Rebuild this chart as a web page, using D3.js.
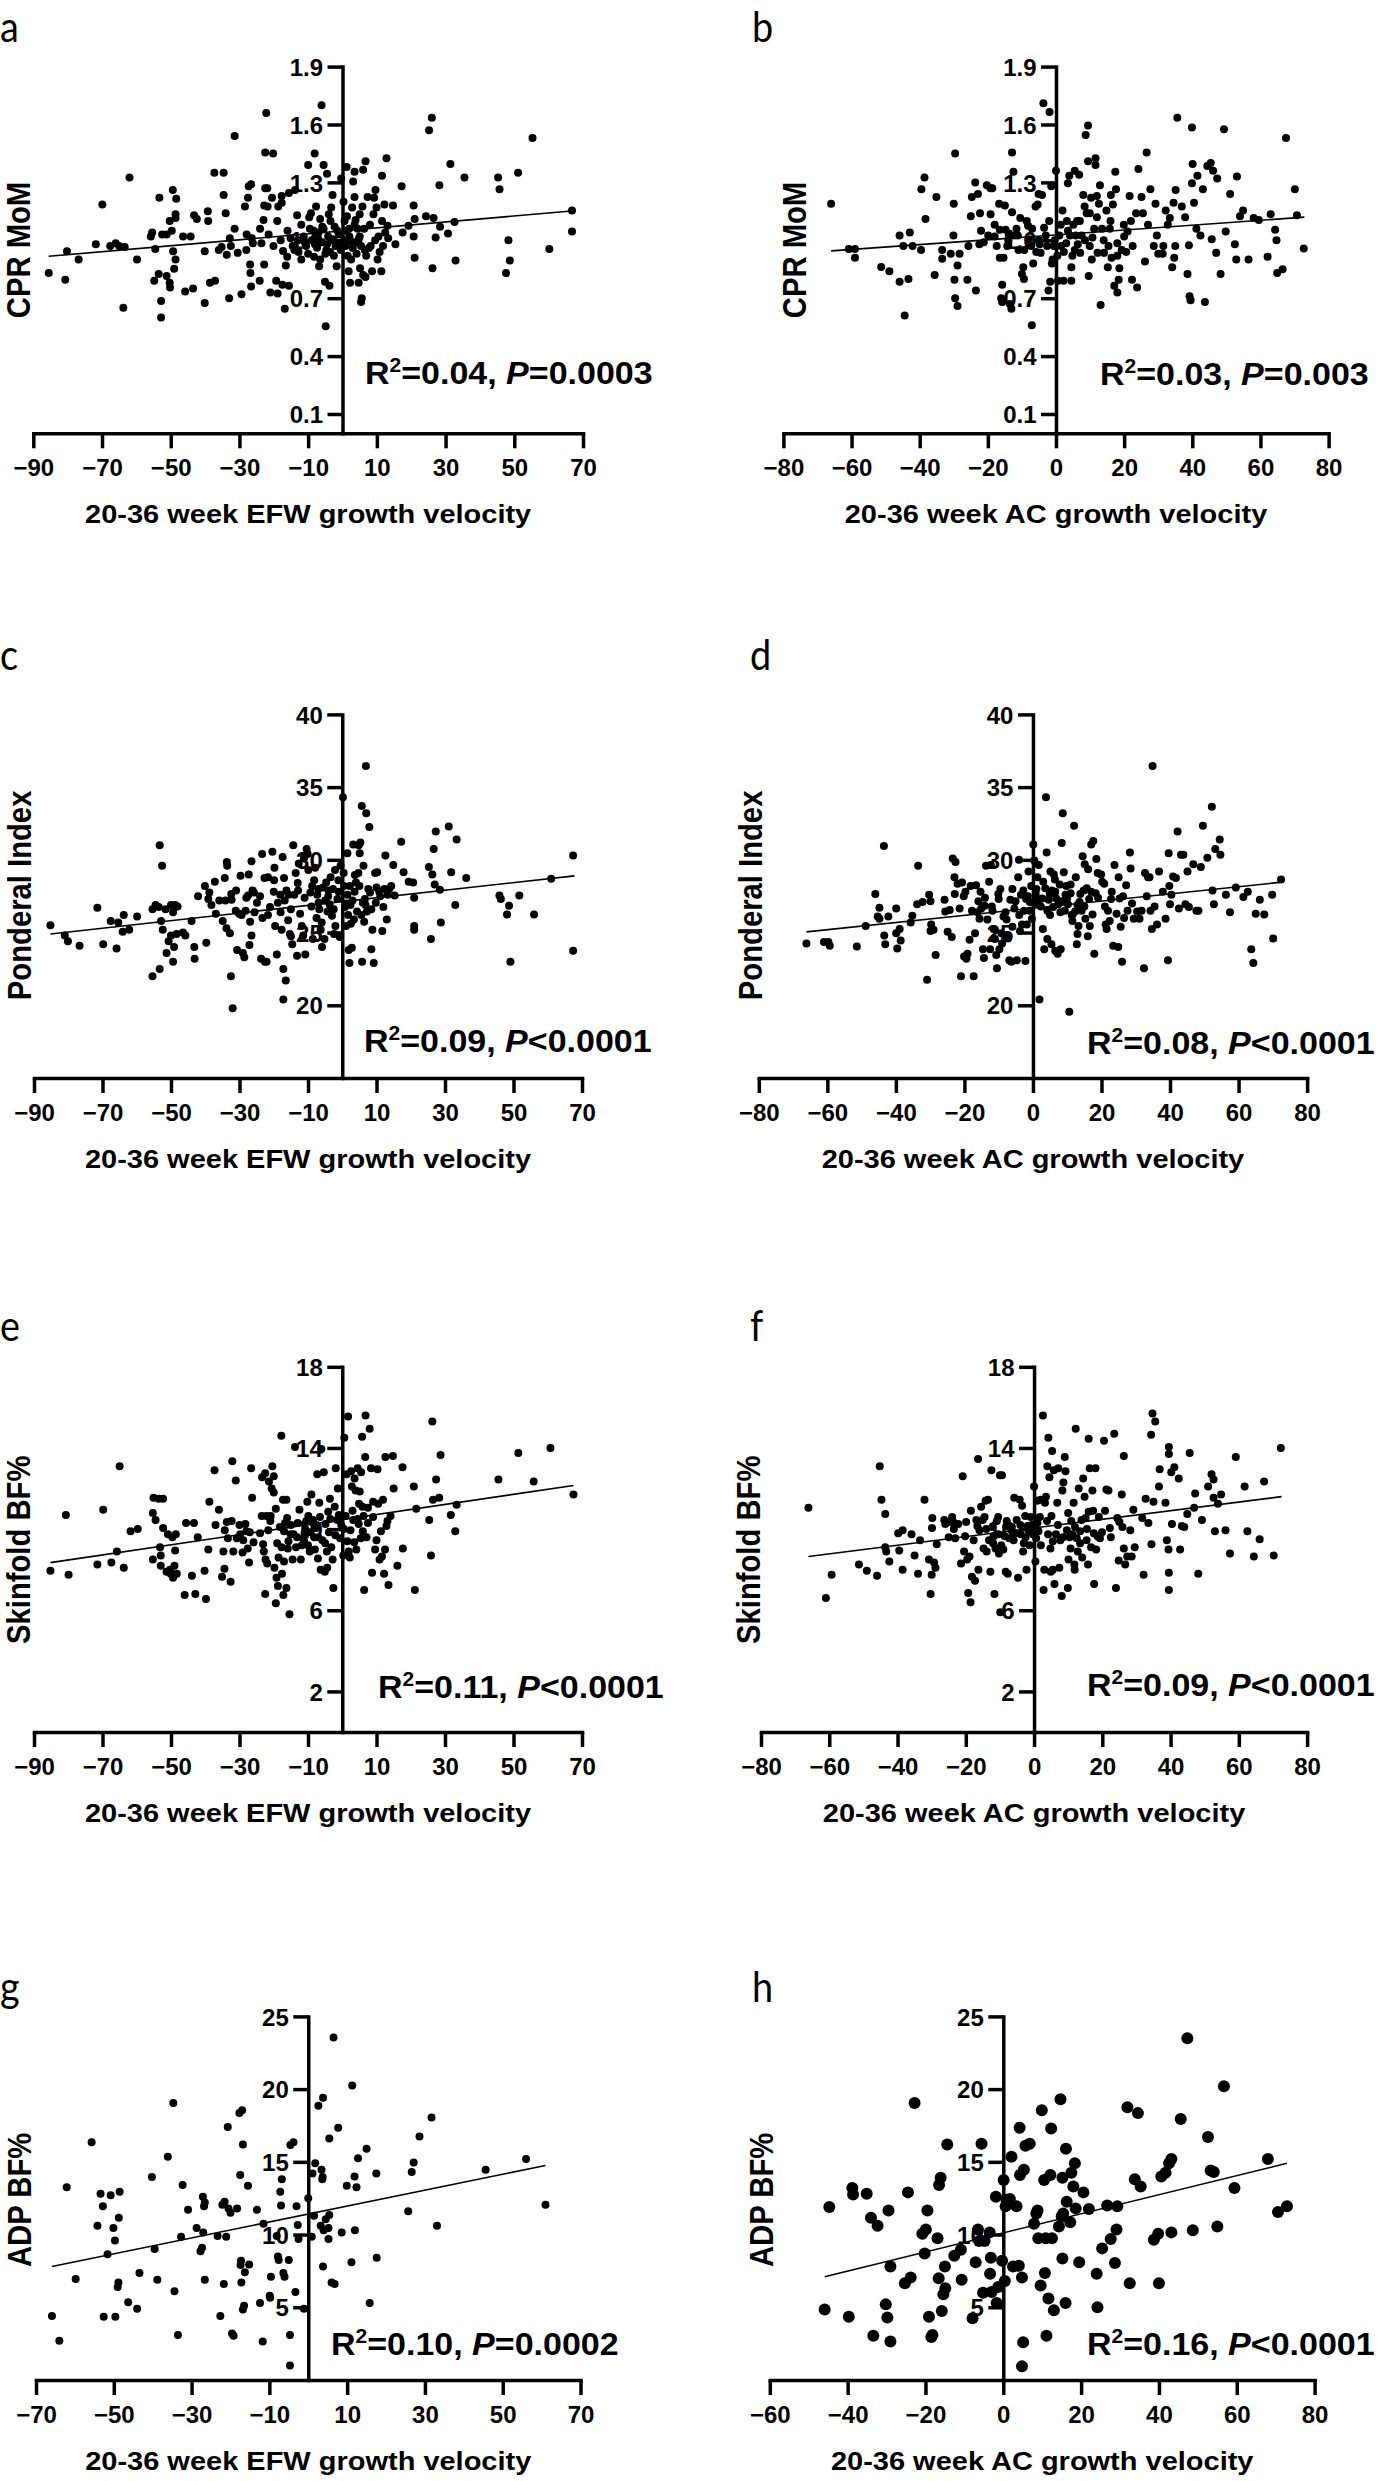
<!DOCTYPE html>
<html>
<head>
<meta charset="utf-8">
<script src="https://cdn.jsdelivr.net/npm/d3@7/dist/d3.min.js"></script>
<style>
  html, body { margin: 0; padding: 0; background: #fff; }
  svg { display: block; }
  .bold { font-family: "Liberation Sans", Arial, Helvetica, sans-serif; font-weight: bold; fill: #000; }
  .plab { font-family: Lato, "Open Sans", sans-serif; font-weight: normal; fill: #000; }
</style>
</head>
<body>
<svg id="chart" width="1379" height="2481"></svg>
<script>
// ---------------- DATA ----------------
const xTitleEFW = "20-36 week EFW growth velocity";
const xTitleAC = "20-36 week AC growth velocity";
const yTitles = ["CPR MoM", "Ponderal Index", "Skinfold BF%", "ADP BF%"];
const panelLetters = ["a", "b", "c", "d", "e", "f", "g", "h"];

const xTicksEFW = [-90, -70, -50, -30, -10, 10, 30, 50, 70];
const xTicksAC = [-80, -60, -40, -20, 0, 20, 40, 60, 80];
const xTicksEFWg = [-70, -50, -30, -10, 10, 30, 50, 70];
const xTicksACh = [-60, -40, -20, 0, 20, 40, 60, 80];
const yTicksCPR = [0.1, 0.4, 0.7, 1.0, 1.3, 1.6, 1.9];
const yTicksPI = [20, 25, 30, 35, 40];
const yTicksSkin = [2, 6, 10, 14, 18];
const yTicksADP = [5, 10, 15, 20, 25];

const statsA = ["0.04", "=", "0.0003"];
const statsB = ["0.03", "=", "0.003"];
const statsC = ["0.09", "<", "0.0001"];
const statsD = ["0.08", "<", "0.0001"];
const statsE = ["0.11", "<", "0.0001"];
const statsF = ["0.09", "<", "0.0001"];
const statsG = ["0.10", "=", "0.0002"];
const statsH = ["0.16", "<", "0.0001"];

const fitA = [[-85.5, 0.917], [67.5, 1.153]];
const fitB = [[-66, 0.945], [72.9, 1.12]];
const fitC = [[-85.2, 24.9], [67.8, 28.9]];
const fitD = [[-66.1, 25.05], [72, 28.45]];
const fitE = [[-85.2, 8.35], [67.5, 12.15]];
const fitF = [[-66.1, 8.65], [72.5, 11.6]];
const fitG = [[-65.9, 7.8], [61, 14.75]];
const fitH = [[-45.9, 7.1], [72.9, 14.9]];

const pointsA = [[-85.5,0.83],[-80.7,0.795],[-80.2,0.943],[-76.8,0.90],[-71.8,0.98],[-69.9,1.185],[-67.6,0.97],[-66,0.985],[-65,0.97],[-63.8,0.65],[-63.4,0.965],[-62,1.325],[-59.8,0.90],[-55.8,1.02],[-55.4,1.04],[-54.5,0.955],[-54.8,0.79],[-53.3,1.22],[-53.5,0.825],[-52.8,0.685],[-52.8,0.60],[-52.5,1.03],[-51.2,1.03],[-51.2,0.815],[-50.3,0.78],[-50.2,0.755],[-50.3,1.10],[-49.7,1.05],[-49.4,1.26],[-49.3,0.943],[-48.6,0.90],[-49.0,0.853],[-48.6,1.135],[-48.6,1.115],[-48.4,1.215],[-46.4,1.02],[-45.8,0.735],[-44.2,1.02],[-43.5,0.75],[-43.2,1.13],[-42.4,1.11],[-40.1,0.943],[-40.1,0.675],[-39.2,1.15],[-39.1,1.1],[-38.6,0.78],[-37.1,0.79],[-37.3,1.35],[-36,0.95],[-35.2,0.965],[-34.6,1.35],[-34.6,1.235],[-34,1.14],[-33.7,0.925],[-33,0.70],[-32.8,1.01],[-32.5,0.97],[-31.4,1.54],[-31.4,1.06],[-30.5,0.935],[-29.4,0.72],[-28.4,1.175],[-27.9,1.03],[-27.5,1.22],[-27.3,1.28],[-26.9,0.875],[-26.8,0.83],[-26.6,0.76],[-26.4,1.01],[-26.6,1.29],[-26.1,0.985],[-24.1,0.79],[-23.6,0.985],[-23,1.105],[-22.8,0.875],[-22.8,1.18],[-22.5,1.27],[-21.9,1.27],[-22.2,1.66],[-22.5,1.455],[-21.8,1.175],[-21.5,1.03],[-21,0.73],[-20.5,1.22],[-20.2,1.45],[-20.1,0.97],[-19.3,0.79],[-18.9,0.725],[-18.7,1.175],[-17.7,1.23],[-17.7,1.195],[-17.5,0.77],[-17.3,0.945],[-16.8,0.645],[-16.5,0.87],[-16.1,0.915],[-15.6,1.245],[-15.6,0.765],[-15.1,1.01],[-14.5,0.97],[-13.8,1.26],[-13.2,1.13],[-12.8,0.94],[-12,0.90],[-11.3,1.02],[-10.6,0.97],[-10,1.39],[-9.7,1.12],[-9.2,1.14],[-8.4,1.05],[-8.3,0.915],[-8.1,1.45],[-7.7,1.175],[-7.4,0.962],[-7.2,1.01],[-6.8,0.865],[-6.5,1.11],[-6.1,1.70],[-5.9,1.07],[-5.5,1.39],[-5.1,0.785],[-4.9,0.555],[-4.7,0.95],[-4.5,1.345],[-4.2,1.02],[-4,1.135],[-3.8,0.765],[-3.6,0.94],[-3.3,1.17],[-2.9,1.235],[-2.7,1.005],[-2.3,1.07],[-2,0.97],[-1.7,0.865],[-1.3,0.975],[-0.4,1.32],[0.3,1.2],[0.6,1.1],[0.9,0.97],[1.2,1.38],[1.3,1.125],[1.5,0.92],[1.8,0.84],[1.9,1.06],[2.2,0.78],[2.4,0.995],[2.8,1.17],[3.1,1.305],[3.5,1.355],[3.5,1.225],[3.8,1.105],[4.1,0.93],[4.4,1.06],[4.7,1.005],[4.7,0.78],[5,1.135],[5.1,0.855],[5.4,0.97],[5.4,0.68],[5.8,1.175],[5.6,0.70],[6,1.365],[6,0.82],[6.3,1.06],[6.7,1.41],[6.7,0.81],[6.9,0.92],[7.3,1.225],[7.7,0.96],[8.2,0.97],[8.6,0.84],[9,1.135],[9.2,1.22],[9.6,1.26],[9.9,1.17],[10.2,0.90],[10.5,1.02],[10.8,0.94],[11.3,0.84],[11.5,1.1],[11.5,1.335],[11.8,0.97],[12.2,1.185],[12.4,1.04],[12.8,1.425],[13.1,1.075],[13.3,1.01],[14.7,1.18],[15.4,0.98],[17.2,1.28],[17.5,1.04],[19.2,1.075],[20.7,1.18],[20.7,1.02],[21,0.91],[21,1.11],[24.3,1.125],[25.2,1.57],[26,1.635],[26.2,0.855],[26.5,1.115],[27.1,1.015],[28.2,1.285],[28.4,1.07],[30.7,1.035],[31.4,1.395],[32.6,1.095],[32.9,0.895],[35.5,1.325],[45.3,1.325],[45.7,1.265],[47.6,0.83],[48.3,1.0],[48.7,0.895],[51.1,1.35],[55.3,1.53],[60.2,0.955],[66.8,1.155],[66.8,1.045],[-11,0.99],[-9,1.0],[-6,0.99],[-5,0.93],[-3,1.0],[-1,1.03],[0.5,1.0],[2,1.02],[3,0.96],[4,0.99],
  [-18,1.0],[-16,1.05],[-14,0.95],[-13,1.0],[-12,1.08],[-10,0.93],[-9.5,1.06],[-8,0.98],[-7,1.04],[-6.5,0.9],[-5.5,1.06],[-4.5,0.98],[-3.5,1.1],[-2.5,0.92],[-1.5,1.05],[-0.5,0.95],[1,1.05],[2.5,0.9],[3.5,1.08],[5,1.02],[6.5,0.95],[8,1.08],[9.5,1.0],[-19,1.1],[-24,1.06],[-28,0.95]];

const pointsB = [[-66,1.19],[-60.8,0.955],[-59,0.955],[-59,0.91],[-51.3,0.862],[-48.9,0.84],[-45.9,1.025],[-45.9,0.785],[-44.8,0.97],[-44.4,0.61],[-43.3,0.80],[-42.9,1.04],[-42.1,0.97],[-39.6,0.95],[-39.5,1.265],[-38.6,1.325],[-38.3,1.11],[-35.6,0.82],[-35.1,1.225],[-33.4,0.95],[-33.4,0.905],[-30.9,0.93],[-30.1,1.025],[-30,1.19],[-29.8,0.795],[-29.6,1.45],[-29.6,0.70],[-28.9,0.66],[-28.9,0.87],[-28.3,0.93],[-26,0.795],[-25.7,0.97],[-25,1.125],[-24.7,1.225],[-23.7,1.30],[-23.5,0.74],[-22.9,1.24],[-22.5,0.98],[-22.3,1.14],[-21.2,0.99],[-20.3,1.285],[-19.9,1.025],[-19.2,1.27],[-19.2,1.135],[-18.7,1.27],[-18,1.02],[-17.4,0.97],[-16.7,1.19],[-16.5,1.055],[-16.5,0.91],[-16.1,0.70],[-15.8,0.77],[-15.8,0.68],[-15.4,0.91],[-15,1.18],[-14.8,1.055],[-14.3,0.97],[-13.8,1.035],[-13.5,0.67],[-13.1,0.645],[-12.9,1.145],[-12.9,1.455],[-12.5,1.355],[-12.2,1.025],[-11.6,1.06],[-11.2,1.025],[-10.5,1.115],[-10,0.825],[-9.6,0.86],[-9.4,0.80],[-9.3,0.95],[-8.6,1.10],[-8.2,1.075],[-8,1.005],[-7.3,0.97],[-7.1,0.56],[-6.7,0.88],[-6,1.175],[-5.8,0.94],[-5.4,1.185],[-5.1,1.24],[-4.8,0.98],[-4.5,0.935],[-4.1,1.235],[-3.7,1.71],[-3.5,1.065],[-3,1.025],[-2.6,0.97],[-2.2,0.74],[-1.9,1.665],[-1.7,0.785],[-1.4,1.28],[-1.2,0.88],[-0.6,0.97],[-0.4,1.0],[0,1.36],[0.4,0.92],[0.6,0.79],[1,1.025],[1.4,1.08],[1.9,1.155],[2.2,0.79],[2.3,0.94],[3,0.985],[3.2,1.10],[3.5,1.295],[3.9,1.335],[4.1,1.025],[4.5,0.79],[4.5,0.86],[4.8,0.92],[5.1,1.08],[5.5,1.36],[5.8,1.025],[6.2,1.10],[6.4,0.98],[6.8,1.34],[7.1,0.935],[7.5,1.025],[8,1.235],[8.4,1.175],[8.7,1.545],[9,1.14],[9.4,1.595],[9.4,1.41],[9.6,0.815],[9.9,0.97],[9.9,1.14],[10.3,1.22],[10.7,1.015],[11.2,1.06],[11.6,1.425],[11.6,1.39],[12,1.23],[12.2,0.935],[12.6,1.19],[12.9,1.285],[13.1,0.665],[13.5,1.06],[14.1,0.935],[14.8,1.155],[15.2,0.86],[15.4,0.97],[15.8,1.06],[16.1,1.235],[16.3,0.91],[16.7,1.185],[17.1,0.765],[17.4,1.355],[17.6,1.265],[18,0.73],[18,0.985],[18.4,0.795],[18.6,0.855],[19.3,0.95],[19.9,1.08],[20.6,0.94],[21,1.045],[21.6,1.23],[22.3,0.795],[22.5,0.97],[23.5,1.14],[23.8,0.755],[24.2,1.37],[25.1,1.225],[25.5,1.14],[26.1,0.89],[26.6,1.455],[27,1.08],[27.7,1.265],[28.7,0.97],[29.2,1.19],[29.6,1.025],[30,0.93],[31.3,0.93],[31.5,0.97],[32.2,1.155],[32.8,1.08],[33.4,1.115],[34.1,0.86],[34.5,1.195],[34.7,0.91],[35,0.97],[35.1,1.26],[35.6,1.635],[36.9,1.175],[37.9,1.12],[38.6,0.825],[39,0.975],[39.2,0.71],[39.5,0.69],[39.9,1.585],[39.9,1.295],[40.1,1.395],[40.5,1.195],[41.2,1.06],[41.5,1.335],[42.4,1.025],[43.1,1.265],[43.7,0.68],[44.4,1.385],[45.4,1.40],[45.7,1.005],[46.1,1.36],[47,0.935],[47.3,1.32],[48.3,0.825],[49.3,1.575],[49.8,1.045],[51.1,1.24],[52.5,0.98],[52.9,0.90],[53.1,1.33],[54,1.125],[54.9,1.155],[56.5,0.90],[58,1.115],[59.5,1.105],[62.1,0.915],[63,1.135],[64.3,1.055],[64.7,1.0],[64.9,0.83],[66.5,0.85],[67.5,1.53],[70.1,1.265],[70.7,1.13],[72.7,0.958],
  [-18,1.08],[-14,1.0],[-11,0.95],[-7,1.06],[-5,1.0],[-2,1.1],[-1,0.9],[1.5,0.97],[3.5,1.05],[5.5,0.95],[7,1.1],[8.5,1.0],[10.5,0.9],[12,1.12],[14,1.0],[16,1.1],[18,0.92],[20,1.02],[22,1.1],[-22,1.05]];

const pointsC = [[-85.2,25.5],[-81,24.8],[-80.1,24.4],[-76.7,24.1],[-71.5,26.7],[-69.8,24.2],[-67.6,25.8],[-65.9,23.9],[-65.4,25.7],[-63.8,26.2],[-64.1,25.05],[-62.2,25.2],[-59.9,26.1],[-55.4,26.6],[-55.4,22],[-54.5,26.9],[-53.6,26.75],[-53.3,31],[-53.3,22.5],[-52.6,29.6],[-52.9,25.8],[-52.4,25.2],[-51.6,26.6],[-51.3,23.6],[-50.7,24.4],[-50,24.8],[-50,26.9],[-49.4,26.4],[-49.4,23],[-49.1,24],[-48.8,26.9],[-48.4,24.9],[-48.1,26.8],[-46.5,25],[-45.8,24.8],[-44,25.8],[-43.2,24],[-43.1,23.2],[-42.1,27.5],[-40.1,28.2],[-39.7,24.3],[-39.1,27.3],[-38.8,27.75],[-38.2,26.9],[-37.2,28.5],[-36.9,26.3],[-35.9,27.2],[-34.9,25.8],[-34.3,28.75],[-34.1,27.2],[-33.8,25.3],[-33.7,29.85],[-33.6,29.6],[-32.8,24.95],[-32.5,22],[-32,19.8],[-32.4,27.65],[-32.3,27.25],[-31.1,26.5],[-30.7,23.8],[-30.1,26.3],[-29.7,28.9],[-29.4,26.2],[-29,23.6],[-28.6,23.3],[-28.2,26.5],[-27.5,27.55],[-27.3,29],[-27.1,24.15],[-26.9,25.75],[-26.5,29.9],[-26.5,24.8],[-26.2,27.9],[-25.8,27.75],[-25.6,26.4],[-24.9,27.05],[-23.7,23.2],[-23.4,30.4],[-23.3,26],[-22.7,28.75],[-22.6,23],[-22.1,23],[-21.7,28.8],[-21.7,26.2],[-21.1,26.75],[-20.4,30.55],[-19.9,28.6],[-19.8,29.45],[-19.6,25.45],[-19.1,23.5],[-18.8,27.05],[-18.1,27.6],[-17.7,25.2],[-17.4,30.2],[-17.2,22.5],[-17.2,20.4],[-17,28.75],[-16.8,27.2],[-16.5,21.7],[-16.3,27.9],[-15.8,25.85],[-15.7,27.6],[-15.3,24.9],[-15,24.75],[-14.6,24.2],[-14.3,31],[-14,27.6],[-13.6,29.1],[-13.2,23.4],[-12.9,27.9],[-12.7,29.75],[-12.3,26.3],[-11.8,25.45],[-11.4,24.8],[-11.2,30.1],[-10.8,23.5],[-10.4,30.75],[-10.1,30.4],[-9.9,29.3],[-9.3,27.75],[-8.8,28.2],[-8.6,24.55],[-8.2,28.6],[-7.9,29.45],[-7.5,26],[-7.3,27.6],[-6.9,27.05],[-6.7,26.6],[-6.3,25.2],[-5.9,24],[-5.6,28.1],[-5.2,24.55],[-5,27.2],[-4.7,28.45],[-4.3,26.45],[-4.1,27.5],[-3.7,26.95],[-3.4,28.8],[-3,26.15],[-2.7,28],[-2.4,24.9],[-2.1,29.3],[-2,25.45],[-1.4,27.3],[-1.1,28.6],[-0.7,24.7],[-0.5,29.6],[0.2,34.3],[0.4,29.1],[0.8,26.75],[1.1,25.45],[1.5,30.45],[1.5,27.6],[1.7,26.2],[1.9,23.8],[2.1,22.9],[2.2,28.2],[2.4,26.9],[2.8,23.95],[3,27.2],[3.2,31.05],[3.4,25.9],[3.7,28.95],[4,28.45],[4.3,26.45],[4.7,29.1],[4.8,31],[5.1,30.45],[5.3,31.2],[5.6,26.2],[5.7,33.7],[5.8,23],[6,27.05],[6.2,29.6],[6.4,25.75],[6.6,27.3],[6.9,36.45],[7,33.2],[7.2,26.45],[7.6,28],[7.9,32.25],[8.1,27.75],[8.5,23.85],[8.8,25.2],[9.2,22.9],[9.6,29.1],[9.8,27.05],[10.2,29.15],[10.8,27.8],[11.1,27.5],[11.7,25.1],[12,26.75],[12.3,28],[12.6,30.3],[13,25.9],[13.3,27.6],[13.7,28],[14.3,28.2],[14.9,29.65],[15.3,27.55],[17.2,31.25],[17.9,29.15],[19.4,28.5],[20.7,28.45],[21,27.4],[21,25.45],[21,25.2],[25.3,29.5],[25.9,24.55],[26.3,29],[26.7,30.75],[27,28.3],[27.3,31.95],[28.5,27.95],[28.8,25.7],[31.1,32.3],[31.8,29.15],[33,26.9],[33.4,31.4],[36.2,28.75],[45.9,27.55],[46.3,27.3],[48.1,26.25],[48.7,26.85],[49.1,23],[51.7,27.55],[56,26.25],[61,28.7],[67.4,30.3],[67.4,23.75],
  [-24,27.5],[-20,27.8],[-18,26.4],[-15,26.6],[-13,28.4],[-11,27.4],[-9,26.8],[-7,28.0],[-6,25.7],[-4,27.9],[-2.5,26.6],[-1,27.8],[0.5,28.2],[1.2,27],[2.5,25.6],[3.6,27.8],[5,28.2],[6.8,26.9],[8.5,26.6],[10,28.1],[-28,27.4],[-31,27.9]];

const pointsD = [[-66.1,24.25],[-61,24.35],[-59.7,24.35],[-59.3,24.1],[-51.4,24.05],[-48.8,25.45],[-46,27.65],[-45.3,26.1],[-44.8,26.7],[-44.8,25.95],[-43.5,30.95],[-43.4,24.8],[-43.1,24.2],[-42.2,26.1],[-39.9,26.65],[-39.9,24.95],[-39.6,23.9],[-38.9,25.25],[-38.6,24.45],[-35.7,25.7],[-35.2,26.15],[-33.8,26.95],[-33.5,29.6],[-32.2,27.1],[-30.9,21.75],[-30.3,27.6],[-29.9,27.15],[-29.9,25.1],[-29.7,25.55],[-29,25.2],[-28.4,23.45],[-25.8,27.25],[-25.6,26.45],[-24.9,25.05],[-24.3,26.55],[-23.7,24.7],[-23.4,30.1],[-22.8,27.65],[-22.6,29.85],[-22.9,28.8],[-22,28.35],[-21.4,26.65],[-21,22],[-20.7,28.45],[-20.2,27.5],[-20.1,23.35],[-19.7,27.8],[-19.4,23.2],[-19.1,23.55],[-18.5,24.5],[-18.2,28.2],[-17.8,26.5],[-17.3,22],[-16.9,24.95],[-16.6,28.25],[-16.2,26.4],[-15.9,27.15],[-15.6,25.95],[-15.3,27.8],[-15.1,26.65],[-14.6,23.85],[-14.3,23.25],[-14.1,26.85],[-13.7,29.6],[-13.3,25.9],[-12.8,28.5],[-12.5,23.85],[-12.3,29.65],[-11.8,26.5],[-11.5,25.25],[-11.1,24.55],[-10.7,23.45],[-10.5,22.55],[-10.1,27.65],[-9.8,23.85],[-9.5,28],[-9.2,24.95],[-9,24.25],[-8.6,26.1],[-8.2,24.8],[-7.7,25.9],[-7.3,24.6],[-6.9,23.1],[-6.6,27.25],[-6.3,23],[-6,25.4],[-5.4,26.65],[-5.1,27.15],[-4.7,23.1],[-4.3,28.8],[-4.1,30],[-3.8,25.1],[-3.5,27.6],[-3.2,25.55],[-2.8,27.9],[-2.6,26.5],[-2.2,23.05],[-1.8,25.55],[-1.5,27.5],[-1.3,29.2],[-0.9,27.1],[-0.5,28.2],[-0.3,25.95],[0.1,31.05],[0.4,29.95],[0.6,26.95],[0.8,27.65],[1,28],[1.3,28.8],[1.7,29.65],[1.9,20.4],[2.3,26.8],[2.7,27.35],[2.9,25.25],[3.3,23.85],[3.6,28.05],[3.8,34.3],[4,30.5],[4.2,24.55],[4.2,26.5],[4.6,27.25],[4.9,27.65],[5.1,29.2],[5.4,24.2],[5.5,27.9],[5.9,26.75],[6.1,29],[6.4,28.65],[6.5,23.75],[6.8,27.35],[7.2,23.55],[7.4,26.95],[7.8,28.3],[8.1,23.85],[8.3,27.15],[8.4,31.15],[8.7,33.2],[9,29.15],[9.3,26.5],[9.7,28.2],[10,27.4],[10.2,26.95],[10.6,19.55],[11,27.7],[11.3,26.2],[11.5,25.8],[11.6,26.25],[12,32.35],[12.3,26.45],[12.5,28.8],[12.8,24.2],[13,24.9],[13.3,25.45],[13.6,27.1],[13.8,27.65],[14.2,26.5],[14.5,30.25],[14.8,27.9],[15.1,29.7],[15.3,25.95],[15.7,28.05],[16,24.75],[16.1,29.35],[16.4,27.3],[16.6,25.45],[17,31.05],[17.4,26.25],[17.6,31.3],[17.9,23.55],[18.3,27.7],[18.5,30.05],[18.9,29.1],[19.9,29],[20.2,28.5],[20.8,28.35],[21.2,25.55],[21.5,25.25],[21.9,26.5],[22.4,25.8],[22.8,27.3],[23.4,24.1],[23.8,29.65],[24.4,26.3],[24.9,24],[25.3,27.35],[25.6,25.4],[26,23],[26.3,27.5],[26.6,26],[27.2,28.25],[27.6,26.5],[28.3,30.5],[28.5,29.4],[28.9,27],[29.4,25.95],[30.4,26.45],[31.1,25.95],[31.7,26.5],[32.4,22.55],[32.7,29.1],[33.2,27.5],[33.6,28.8],[34,28.8],[34.3,26.5],[34.7,25.25],[34.9,36.45],[35.5,26.8],[36.2,25.55],[36.8,29.2],[37.9,27.8],[38.7,25.95],[39.4,23.1],[39.6,30.45],[39.8,28.2],[40,26.95],[40.4,27.6],[40.9,28.85],[41.7,28.75],[42.2,31.95],[42.6,26.65],[43.2,30.35],[43.9,30.35],[44.5,26.95],[45.1,29.2],[45.5,26.75],[46.8,29.7],[47.7,26.5],[48.3,26.5],[49,29.5],[49.6,32.35],[50.9,30.15],[52.2,33.65],[52.4,27.9],[52.8,26.95],[53.2,30.75],[54.5,31.4],[54.7,30.35],[56.3,27.6],[57.5,26.4],[59.2,28.1],[61.4,27.45],[62.7,27.8],[63.7,23.85],[64.3,22.9],[65,26.3],[66.2,27.25],[67.5,26.25],[69.8,27.6],[70.1,24.6],[72.4,28.65],
  [-14,27.4],[-12,26.8],[-10,27.3],[-8,26.4],[-6,28],[-4,26.2],[-2,27.3],[-1,26.5],[1.5,27.2],[3,28.5],[5,26.2],[6.5,27.8],[8,26.4],[9.5,27.6],[11,28.3],[13,26.9],[15,26.8],[17,27.8],[19,27.4],[21,26.8],[23,27.8],[25,28.8]];

const pointsE = [[-85.2,7.95],[-80.7,10.7],[-79.9,7.75],[-71.5,8.25],[-69.8,10.95],[-67.4,8.35],[-65.8,8.9],[-65,13.1],[-63.8,8.1],[-61.8,9.9],[-59.7,10],[-55.3,10.8],[-55.3,8.5],[-55.1,11.55],[-54.5,10.45],[-53.6,11.5],[-53.2,9.1],[-53,8.7],[-53,8.2],[-52.3,11.5],[-52.3,10.05],[-51.3,7.9],[-50.9,9.75],[-50.3,8],[-50.1,7.8],[-49.6,9.6],[-49.4,7.6],[-49,8.2],[-48.8,8.95],[-48.6,9.75],[-48.3,7.8],[-46,6.75],[-45.6,10.3],[-43.9,7.7],[-43.3,10.3],[-42.9,6.8],[-42.2,9.6],[-40.2,7.95],[-39.8,6.55],[-39.1,9],[-38.8,11.35],[-37.3,12.9],[-37,10.2],[-36,10.95],[-35.1,7.65],[-34.7,8.9],[-34.4,8.05],[-34.3,9.95],[-33.7,10.35],[-33.4,9.55],[-32.6,7.4],[-32.3,10.4],[-32.1,13.35],[-31.8,8.9],[-31.1,12.4],[-30.8,9.55],[-29.8,9.75],[-29.1,8.85],[-28.9,9.45],[-28.3,10.25],[-27.6,9.05],[-27.2,8.35],[-27,9.85],[-26.6,13],[-26.3,11.55],[-25.9,9.35],[-23.5,10.65],[-23.4,12.55],[-23.1,9.25],[-22.9,8.9],[-22.5,12.75],[-22.5,6.8],[-22.4,8.5],[-22.1,10.65],[-21.9,8.3],[-21.6,9.95],[-21.4,12.35],[-20.9,10.65],[-20.6,12],[-20.4,13.1],[-20,12.6],[-20,11.8],[-19.8,8.1],[-19.4,11],[-19.4,6.35],[-19.2,7.6],[-18.8,7.2],[-18.6,8.6],[-18.2,10.1],[-17.8,14.6],[-17.7,9.1],[-17.6,7.8],[-17.3,11.45],[-17.2,6.75],[-17,8.4],[-16.7,10.3],[-16.3,11.45],[-16.3,7.1],[-16.1,10.55],[-15.9,9.05],[-15.7,9.4],[-15.4,5.8],[-15.1,9.75],[-14.5,8.5],[-14.2,9.75],[-13.8,14.05],[-13.5,9.1],[-13.2,9.6],[-12.5,10.95],[-12.1,8.5],[-11.8,9.2],[-11.2,9.45],[-10.8,10],[-10.5,10.4],[-10.2,11.35],[-9.9,10.65],[-9.5,8.9],[-9.3,9.85],[-9,11.7],[-8.6,10.45],[-8.2,9.6],[-8,9],[-7.7,10.05],[-7.3,12.7],[-7.1,8.55],[-6.7,11.3],[-6.3,8],[-6.1,13.95],[-5.8,9.45],[-5.4,12.8],[-5.1,7.9],[-4.9,10.25],[-4.5,8.9],[-4.4,8.1],[-4.1,10.85],[-3.9,9.85],[-3.6,11.5],[-3.2,9.1],[-2.8,8.5],[-2.6,7.1],[-2.2,11.1],[-1.9,13],[-1.5,10.45],[-1.3,12],[-0.6,9.55],[-0.3,10.2],[0.3,8.7],[0.6,14.5],[1,10.65],[1.3,12.7],[1.7,15.55],[1.9,8.9],[2.2,8.6],[2.4,9.95],[2.6,12.85],[2.8,12.1],[3.2,10.45],[3.5,9.35],[3.6,12.5],[3.9,11.9],[4.1,9],[4.5,13],[4.8,10.25],[4.9,11.25],[5.1,11.85],[5.4,9.55],[5.5,12.8],[5.8,14.55],[5.9,11.1],[6.2,10.65],[6.4,7],[6.7,13.55],[6.8,15.6],[7.1,9.6],[7.5,11.05],[8,14.95],[8.4,13],[8.7,7.85],[9,11.35],[9.6,9],[10,9.45],[10.3,12.95],[10.5,11.25],[10.9,8.5],[11.3,9.9],[11.6,8.65],[11.9,11.45],[12.2,7.8],[12.5,9],[12.6,13.55],[12.9,10.15],[13.2,10.4],[13.5,7.25],[14.1,10.65],[14.8,13.6],[15,12],[16.1,8.2],[17.6,13.05],[17.7,9.05],[20.9,12.1],[21.2,7],[21.6,11],[25.4,10.45],[25.9,8.7],[26.3,15.3],[26.5,11.45],[27.4,12.45],[28.3,11.55],[28.7,13.65],[31.7,10.7],[33,9.9],[33.4,11.2],[45.6,12.45],[51.4,13.75],[55.9,12.35],[60.8,14],[67.5,11.7],
  [-24,9.8],[-21,10.4],[-19,9.3],[-17,9.9],[-15,10.2],[-13,10.3],[-11,9.8],[-10,9.2],[-8.5,10.3],[-7,9.6],[-6.5,10.6],[-5,9.3],[-3.5,10.5],[-2,9.7],[-1,10.7],[0.5,10],[1.5,9.4],[3,10.9],[4.5,10.5],[6,9.9],[7.5,10.3],[9,10.6],[-28,9.9],[-30,10.2]];

const pointsF = [[-66.1,11.05],[-61,6.6],[-59.3,7.75],[-51.3,8.25],[-49,7.95],[-46,7.7],[-45.2,13.1],[-44.7,11.45],[-43.6,10.75],[-43.6,9.1],[-43.3,8.9],[-42.4,8.4],[-39.8,9.8],[-39.5,8.95],[-38.5,9.95],[-38.5,8],[-35.9,9.75],[-35,8.7],[-34,7.8],[-33.4,9.45],[-32.1,11.45],[-30.8,8.5],[-30.3,6.8],[-30,7.75],[-29.9,10.05],[-29.8,10.55],[-29.3,8.35],[-28.9,8.1],[-28.5,9.25],[-26.3,10.45],[-26,10.25],[-25,9.6],[-24.6,10.35],[-24,10.6],[-23.7,10.35],[-23.5,10],[-23.1,9.55],[-22.2,10.25],[-21.4,8.3],[-20.9,12.6],[-20.5,8.9],[-20.2,9.65],[-19.9,10.35],[-19.6,8.5],[-19.3,6.85],[-18.9,8.65],[-18.6,6.4],[-18.5,10.9],[-18.2,7.65],[-17.7,9.45],[-17.3,7.45],[-16.9,10.45],[-16.6,10.15],[-16.4,13.45],[-16.3,8],[-16,9.95],[-15.5,11.1],[-15.1,10.45],[-14.8,9.05],[-14.5,10.6],[-14.2,11.4],[-13.9,8.9],[-13.5,11.45],[-13.2,9.45],[-12.8,7.9],[-12.5,12.9],[-12.2,10.1],[-11.8,9.65],[-11.6,6.8],[-11.3,9.05],[-10.9,10.4],[-10.5,9.75],[-10.3,8.8],[-10,12.65],[-9.9,5.9],[-9.6,9.2],[-9.4,12.65],[-9,9],[-8.6,9.65],[-8.3,7.9],[-8.1,10.15],[-7.7,7.8],[-7.3,9.55],[-6.7,9.95],[-6,9.45],[-5.8,11.55],[-5.5,9.8],[-5.1,10.45],[-4.7,7.6],[-4.2,11.45],[-3.9,9.75],[-3.5,11.15],[-3.2,8.9],[-3,9.3],[-2.6,10.65],[-2.2,8],[-1.9,10.15],[-1.5,9.9],[-1.3,9.2],[-0.9,9.95],[-0.6,10.2],[-0.3,9.75],[0,12.1],[0.4,8.4],[0.6,9.55],[0.9,11.4],[1.3,9.9],[1.7,10.6],[1.9,11.45],[2.6,15.6],[2.8,7],[3,8],[3.2,11.3],[3.5,11.6],[3.9,13.1],[4.1,9.75],[4.2,14.5],[4.5,12.55],[4.8,9.05],[4.9,7.9],[5.1,10.65],[5.3,13.85],[5.5,8],[5.8,12.9],[6,7.3],[6.4,9.75],[6.8,11.3],[7.1,13],[7.4,8.1],[7.7,9.45],[8.1,6.7],[8.3,11.9],[8.6,12.3],[9,13.55],[9.2,12.85],[9.6,9.95],[9.9,7.1],[10.1,8.5],[10.4,9.6],[10.7,9.05],[10.9,10.4],[11.2,9.75],[11.6,11.3],[11.8,8.25],[11.9,8],[12.2,14.95],[12.5,9.55],[12.8,8.9],[13.1,12],[13.5,9.9],[13.9,10.45],[14.1,8.6],[14.4,12.5],[14.8,11.6],[15.1,10.55],[15.4,9.45],[15.8,8.25],[16,14.45],[16,10.85],[16.3,13],[16.7,9.1],[17.1,11.9],[17.3,10.9],[17.6,7.3],[18,13],[18.2,9],[18.6,9.65],[19.3,9.55],[19.9,9.85],[20.5,14.35],[20.8,10.9],[21.2,11.95],[21.8,11.9],[22.2,10.05],[22.5,9.6],[23.5,14.7],[24,7.1],[24.4,10.55],[24.8,8.45],[25,10.35],[25.7,11.7],[25.9,10.1],[26.3,13.6],[26.3,9.05],[26.7,8.25],[27.3,8.65],[28.2,9.95],[28.6,8.65],[29.1,10.95],[29.5,9.1],[31.7,10.55],[32.1,7.75],[32.7,11.5],[33.5,10.3],[34.3,14.65],[34.4,9.25],[34.7,15.7],[35,11.35],[35.5,15.3],[36.6,12.1],[36.8,12.95],[38.5,11.3],[38.9,9.45],[39.5,14.05],[39.5,13.7],[39.4,9],[39.5,7.85],[39.5,7],[40.2,12.8],[40.4,10.25],[41.1,13.05],[42.4,12.5],[42.8,9],[43.3,10.15],[44,10.1],[44.9,10.75],[45.6,13.75],[46.9,11.05],[47.2,11.75],[48.1,7.8],[49.2,10.45],[51,12.1],[52,12.7],[52.6,12.45],[52.6,11.55],[53,9.9],[53.9,11.25],[54.8,11.7],[56.1,9.95],[57.4,8.8],[59.1,13.55],[61.7,12.1],[62.5,9.9],[64.4,8.65],[66.1,9.5],[67.4,12.35],[70.2,8.7],[72.3,14],
  [-14,10],[-12,9.3],[-10.5,10.6],[-8,10.4],[-6.5,10.1],[-4,10.2],[-2.5,9.6],[-1,10.6],[1,10.3],[2,9.2],[3.8,10.4],[5.5,9.4],[7,10.2],[8.5,9.6],[10,10.8],[12,10.1],[13.5,9.3],[15.5,10],[17.5,9.8],[19,10.6]];

const pointsG = [[-65.9,4.4],[-64,2.7],[-62.1,13.25],[-59.8,6.95],[-55.7,16.35],[-54.2,10.6],[-53.4,12.8],[-52.8,11.95],[-52.6,4.35],[-51.6,8.65],[-50.8,12.7],[-50.1,10.45],[-49.7,9.6],[-49.6,4.35],[-49,6.4],[-48.8,6.7],[-48.7,11.15],[-48.5,12.95],[-46.3,5.35],[-44,4.9],[-43.4,7.35],[-40.2,13.95],[-39.5,9],[-38.8,6.9],[-36.1,15.35],[-34.7,19.05],[-34.4,6.1],[-33.5,3.1],[-32.7,9.85],[-32.3,13.4],[-30.9,11.7],[-28.7,10.45],[-27.7,8.85],[-27.3,9.1],[-27.1,12.6],[-27,10.15],[-26.8,11.95],[-26.6,12.2],[-26.6,6.9],[-23.3,9.9],[-22.6,4.4],[-22.1,12.05],[-21.7,6.6],[-21.5,12.25],[-21.1,9.85],[-20.7,17.4],[-20.5,11.8],[-20,11.5],[-19.6,3.2],[-19.2,3.05],[-18.3,11.8],[-17.7,18.35],[-17.5,14.1],[-17.4,7.9],[-17.3,8.2],[-17.2,6.7],[-17,18.55],[-16.8,16.2],[-16.8,4.85],[-16.5,5.1],[-16.3,7.4],[-15.5,13.35],[-15.2,7.95],[-13.2,11.7],[-12.4,5.3],[-11.7,2.65],[-11.5,10.75],[-9.9,5.8],[-9.8,5.65],[-9.6,7.1],[-8.1,9.9],[-7.8,8.5],[-7.6,8.25],[-7.2,12.95],[-7,12],[-6.8,13.8],[-6.4,7.35],[-6.1,7.1],[-5,8.25],[-4.7,1],[-4.7,3.1],[-4.6,16.15],[-3.8,16.35],[-3.3,6.05],[-3,11.95],[-2.7,10.65],[-2.5,9.7],[-1.1,4.9],[0,12.5],[0.9,9.85],[1.1,14.2],[1.5,11.3],[1.8,14.9],[2.6,18.85],[3.2,10.6],[3.4,14.45],[3.6,13.8],[3.7,13.95],[3.8,19.4],[3.8,7.8],[3.95,10.3],[4.5,11.05],[5.2,9.7],[5.2,10.45],[5.4,11.35],[5.4,16.6],[6,6.7],[6.8,6.6],[6.5,23.55],[7.7,17.35],[8.6,10.15],[9.9,13.35],[11.1,8.1],[11.3,20.25],[11.9,14],[12,10.3],[12.4,13.25],[12.8,15.25],[15,15.9],[15.8,5.3],[17.5,14.2],[17.6,8.4],[25.7,11.6],[26.6,14.3],[27.1,14.95],[28.6,16.75],[31.7,18.05],[33.1,10.6],[45.6,14.45],[56,15.2],[61,12.05]];

const pointsH = [[-45.9,4.85],[-44.7,11.9],[-39.7,4.35],[-38.8,13.2],[-38.6,12.75],[-35.1,12.8],[-34,11.15],[-33.4,3.05],[-32.3,10.6],[-30.2,5.2],[-29.8,4.3],[-29.5,11.65],[-29,2.65],[-29,7.8],[-25.3,6.65],[-24.5,12.9],[-23.8,7.05],[-22.8,19.05],[-20.8,10.05],[-20.2,8.7],[-19.9,10.35],[-19.5,11.65],[-19.1,4.35],[-18.5,2.95],[-18.2,3.1],[-16.9,9.75],[-16.6,7],[-16.5,13.4],[-16.1,13.9],[-15.8,4.75],[-15.4,5.9],[-14.9,6.3],[-15,7.8],[-14.4,16.2],[-12.6,8.55],[-10.9,8.95],[-10.7,6.9],[-7.9,4.25],[-7.1,8.1],[-6.5,10.35],[-6.2,9.55],[-5.6,16.25],[-5.2,6],[-4.8,9.55],[-3.5,10.15],[-3.4,7.3],[-3,6.05],[-3.2,8.4],[-1.9,12.6],[-1.7,5.3],[-1.3,6.4],[-0.3,8.2],[0.1,13.75],[0.4,6.8],[0.6,11.95],[0.8,12.4],[1.7,12.45],[2.1,15.35],[2.5,7.8],[3.4,11.95],[4,7.85],[4.2,17.35],[4.3,14.1],[4.8,7.05],[4.8,0.95],[5.1,2.6],[5.3,14.45],[5.7,16.1],[6.8,16.25],[7.9,10.75],[8.5,11.45],[8.8,11.65],[9,9.75],[9.6,6.5],[9.9,18.55],[10.5,13.75],[10.7,7.35],[10.9,9.75],[11.1,3.05],[11.6,5.6],[12.1,14.1],[12.3,17.3],[12.5,9.75],[13,4.8],[14.3,10.55],[14.7,19.3],[15,11.25],[15.2,8.35],[15.2,13.9],[15.4,11.45],[16,5.3],[16.1,15.9],[16.3,12.25],[17.2,10.85],[17.5,14.25],[18,13.3],[18.4,14.9],[18.6,11.8],[19.5,8.1],[20.6,12.9],[22,11.75],[24,7.3],[24.2,5],[25.4,9.05],[26.7,12],[27.6,9.7],[28.7,8.05],[29.1,10.35],[29.3,11.95],[31.9,18.75],[32.5,6.65],[33.8,13.8],[34.6,18.35],[35.3,13.3],[38.7,9.65],[39.8,10.05],[40,6.65],[40.6,14],[41.7,14.25],[42.6,14.9],[43.2,15.2],[43.2,10.15],[45.6,17.95],[47.3,23.5],[48.7,10.3],[52.6,16.7],[53.3,14.4],[54.1,14.3],[55,10.55],[56.7,20.2],[59.4,13.2],[68,15.2],[70.6,11.55],[72.9,11.95]];

// ---------------- LAYOUT ----------------
const panels = [
  {id:"a", pts:pointsA, fit:fitA, stats:statsA, xDom:[-90,70], xTicks:xTicksEFW, yDom:[0,1.9], yTicks:yTicksCPR, yFmt:".1f", xTitle:xTitleEFW, yTitle:yTitles[0],
   xR:[33.3,583], yR:[433.3,66.6], lab:[0,42], yT:[29.5,250], r2:[365,383.5], r:4},
  {id:"b", pts:pointsB, fit:fitB, stats:statsB, xDom:[-80,80], xTicks:xTicksAC, yDom:[0,1.9], yTicks:yTicksCPR, yFmt:".1f", xTitle:xTitleAC, yTitle:yTitles[0],
   xR:[783.4,1328.6], yR:[433.3,66.6], lab:[752,42], yT:[806,250], r2:[1100,385], r:4},
  {id:"c", pts:pointsC, fit:fitC, stats:statsC, xDom:[-90,70], xTicks:xTicksEFW, yDom:[15,40], yTicks:yTicksPI, yFmt:"d", xTitle:xTitleEFW, yTitle:yTitles[1],
   xR:[34,582], yR:[1078,714.4], lab:[0,670], yT:[30.7,895.4], r2:[364,1052], r:4},
  {id:"d", pts:pointsD, fit:fitD, stats:statsD, xDom:[-80,80], xTicks:xTicksAC, yDom:[15,40], yTicks:yTicksPI, yFmt:"d", xTitle:xTitleAC, yTitle:yTitles[1],
   xR:[758.8,1307.1], yR:[1078,714.4], lab:[750,670], yT:[762.3,895.4], r2:[1087,1054], r:4},
  {id:"e", pts:pointsE, fit:fitE, stats:statsE, xDom:[-90,70], xTicks:xTicksEFW, yDom:[0,18], yTicks:yTicksSkin, yFmt:"d", xTitle:xTitleEFW, yTitle:yTitles[2],
   xR:[34,582], yR:[1732,1366.8], lab:[0,1341], yT:[29.5,1549.8], r2:[378,1698], r:4},
  {id:"f", pts:pointsF, fit:fitF, stats:statsF, xDom:[-80,80], xTicks:xTicksAC, yDom:[0,18], yTicks:yTicksSkin, yFmt:"d", xTitle:xTitleAC, yTitle:yTitles[2],
   xR:[761,1307.1], yR:[1732,1366.8], lab:[750,1341], yT:[760.1,1549.8], r2:[1087,1696], r:4},
  {id:"g", pts:pointsG, fit:fitG, stats:statsG, xDom:[-70,70], xTicks:xTicksEFWg, yDom:[0,25], yTicks:yTicksADP, yFmt:"d", xTitle:xTitleEFW, yTitle:yTitles[3],
   xR:[36,580.5], yR:[2380,2016.4], lab:[0,2002], yT:[30.7,2199.9], r2:[331,2354.5], r:4},
  {id:"h", pts:pointsH, fit:fitH, stats:statsH, xDom:[-60,80], xTicks:xTicksACh, yDom:[0,25], yTicks:yTicksADP, yFmt:"d", xTitle:xTitleAC, yTitle:yTitles[3],
   xR:[769.8,1314.6], yR:[2380,2016.4], lab:[752,2002], yT:[773.3,2199.9], r2:[1087,2355], r:6}
];

const svg = d3.select("#chart");
svg.append("rect").attr("width",1379).attr("height",2481).attr("fill","#fff");

const AXW = 3.5, TICK = 15;
const minus = s => s.replace("-", "\u2212");

panels.forEach((p, i) => {
  const g = svg.append("g").attr("id", "panel-" + p.id);
  const x = d3.scaleLinear().domain(p.xDom).range(p.xR);
  const y = d3.scaleLinear().domain(p.yDom).range(p.yR);
  const yf = d3.format(p.yFmt);
  const base = y(p.yDom[0]);

  // panel letter
  g.append("text").attr("class","plab").attr("font-size", 42)
    .attr("transform", `translate(${p.lab[0]},${p.lab[1]}) scale(0.9,1)`).text(panelLetters[i]);

  // x axis
  const xa = g.append("g").attr("transform", `translate(0,${base})`)
    .call(d3.axisBottom(x).tickValues(p.xTicks).tickSize(TICK).tickSizeOuter(0)
      .tickFormat(d => minus(String(d))));
  // y axis
  const ya = g.append("g").attr("transform", `translate(${x(0)},0)`)
    .call(d3.axisLeft(y).tickValues(p.yTicks).tickSize(TICK).tickSizeOuter(0)
      .tickFormat(d => yf(d)));

  [xa, ya].forEach(a => {
    a.select(".domain").attr("stroke","#000").attr("stroke-width",AXW).attr("stroke-linecap","square");
    a.selectAll(".tick line").attr("stroke","#000").attr("stroke-width",AXW);
    a.selectAll(".tick text").attr("class","bold").attr("font-size",24).attr("fill","#000");
  });
  xa.selectAll(".tick text").attr("y", 42.7).attr("dy", 0);
  ya.selectAll(".tick text").attr("x", -19.5).attr("dy", "0.36em");

  // axis titles
  g.append("text").attr("class","bold").attr("font-size",29).attr("text-anchor","middle")
    .attr("transform", `translate(${(p.xR[0] + p.xR[1]) / 2},${base + 90}) scale(1,0.88)`).text(p.xTitle);
  g.append("text").attr("class","bold").attr("font-size",32.5).attr("text-anchor","middle")
    .attr("transform", `translate(${p.yT[0]},${p.yT[1]}) scale(1,0.9) rotate(-90)`).text(p.yTitle);

  // points
  g.append("g").selectAll("circle").data(p.pts).join("circle")
    .attr("cx", d => x(d[0])).attr("cy", d => y(d[1])).attr("r", p.r).attr("fill","#000");

  // regression line
  g.append("path").datum(p.fit)
    .attr("d", d3.line().x(d => x(d[0])).y(d => y(d[1])))
    .attr("fill","none").attr("stroke","#000").attr("stroke-width",1.6);

  // stats text
  const t = g.append("text").attr("class","bold").attr("font-size",34)
    .attr("transform", `translate(${p.r2[0]},${p.r2[1]}) scale(1,0.92)`);
  t.append("tspan").text("R");
  t.append("tspan").attr("font-size",21).attr("dy",-13).text("2");
  t.append("tspan").attr("dy",13).text("=" + p.stats[0] + ", ");
  t.append("tspan").attr("font-style","italic").text("P");
  t.append("tspan").text(p.stats[1] + p.stats[2]);
});
</script>
</body>
</html>
